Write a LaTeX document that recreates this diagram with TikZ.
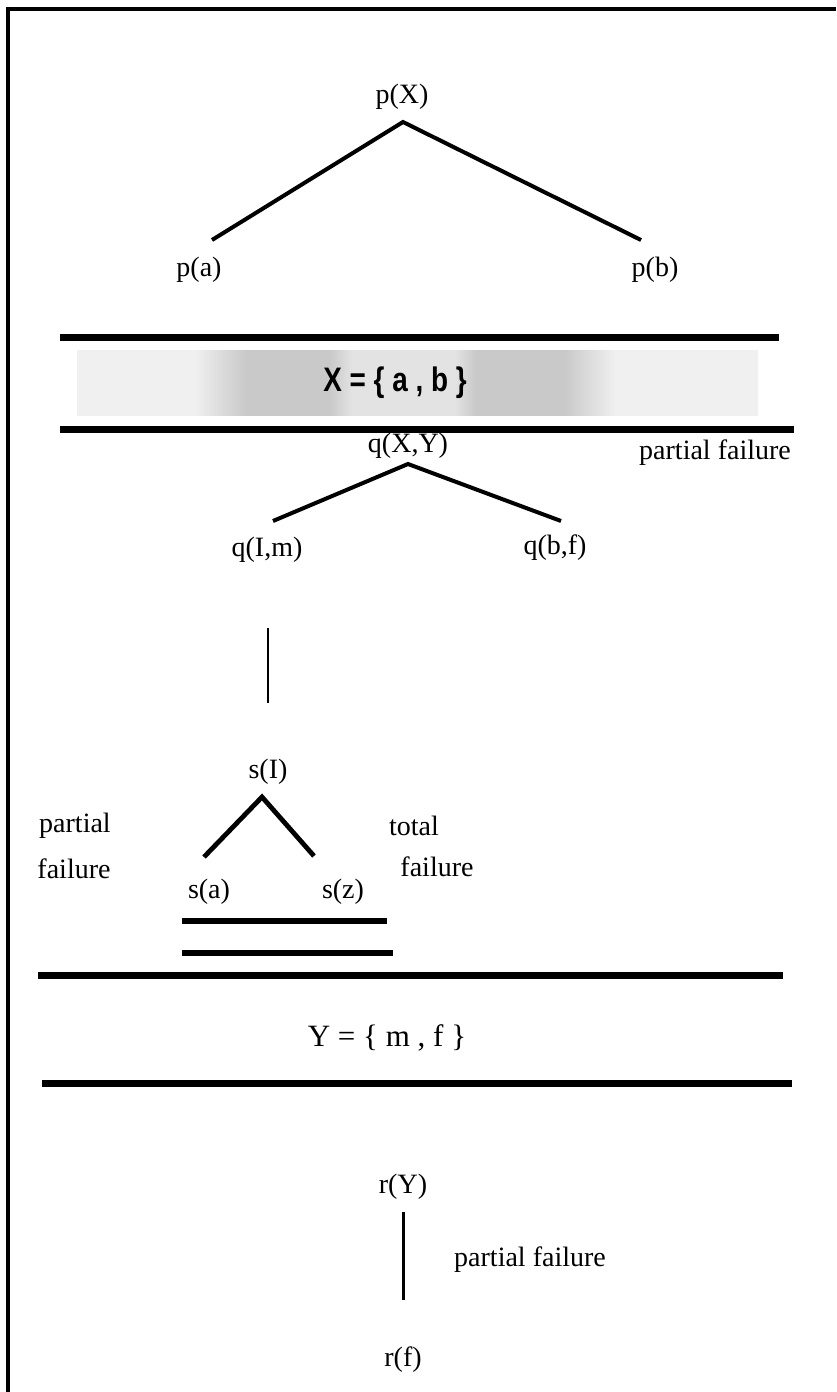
\documentclass[tikz,border=0pt]{standalone}
\usepackage{graphicx}
\usepackage{fontspec}
\setmainfont{Liberation Serif}
\newfontfamily\bandsans{Liberation Sans}
\pgfdeclarehorizontalshading{bandshade}{100bp}{%
  color(0bp)=(gray!12); color(25bp)=(gray!12); color(33.66bp)=(gray!12);
  color(37.33bp)=(gray!42); color(43.58bp)=(gray!42); color(45.19bp)=(gray!22);
  color(52.75bp)=(gray!22); color(54.22bp)=(gray!42); color(60.83bp)=(gray!42);
  color(64.5bp)=(gray!12); color(75bp)=(gray!12); color(100bp)=(gray!12)}
\begin{document}
\begin{tikzpicture}[x=0.5pt,y=-0.5pt,
  lbl/.style={inner sep=0pt, font=\fontsize{14}{16}\selectfont},
  edge/.style={line width=2pt},
  sedge/.style={line width=2.4pt},
  bar/.style={line width=3.5pt},
  shortbar/.style={line width=2.6pt},
  vline/.style={line width=1.2pt}]
\useasboundingbox (0,0) rectangle (836,1392);
% frame
\draw[line width=1.8pt] (8,1392) -- (8,9) -- (836,9);

% p tree
\node[lbl] (pX) at (402,97) {p(X)};
\node[lbl] (pa) at (199,270) {p(a)};
\node[lbl] (pb) at (655,270) {p(b)};
\coordinate (pXt) at (403,122);
\coordinate (pat) at (212,240);
\coordinate (pbt) at (641,240);
\draw[edge] (pat) -- (pXt) -- (pbt);

% X band
\shade[shading=bandshade] (77,350) rectangle (758,415);
\node[inner sep=0pt] (Xset) at (395,383) {\scalebox{0.82}[1]{\bandsans\bfseries\fontsize{17}{19}\selectfont X = \{ a , b \}}};
\coordinate (b1l) at (60,337);
\coordinate (b1r) at (779,337);
\coordinate (b2l) at (60,429);
\coordinate (b2r) at (794,429);
\draw[bar] (b1l) -- (b1r);
\draw[bar] (b2l) -- (b2r);

% q tree
\node[lbl] (qXY) at (408,446) {q(X,Y)};
\node[lbl] (pf1) at (715,453) {partial failure};
\node[lbl] (qIm) at (267,550) {q(I,m)};
\node[lbl] (qbf) at (555,548) {q(b,f)};
\coordinate (qt) at (408,464);
\coordinate (qlt) at (273,521);
\coordinate (qrt) at (561,521);
\draw[edge] (qlt) -- (qt) -- (qrt);
\coordinate (qImb) at (268,628);
\coordinate (sIt0) at (268,703);
\draw[vline] (qImb) -- (sIt0);

% s tree
\node[lbl] (sI) at (268,772) {s(I)};
\node[lbl] (part) at (75,826) {partial};
\node[lbl] (fail1) at (74,869) {failure};
\node[lbl] (sa) at (209,892) {s(a)};
\node[lbl] (sz) at (343,892) {s(z)};
\node[lbl] (total) at (414,826) {total};
\node[lbl] (fail2) at (437,867) {failure};
\coordinate (st) at (262,797);
\coordinate (sat) at (204,857);
\coordinate (szt) at (314,856);
\draw[sedge] (sat) -- (st) -- (szt);
\coordinate (u1l) at (182,921);
\coordinate (u1r) at (387,921);
\coordinate (u2l) at (182,953);
\coordinate (u2r) at (393,953);
\draw[shortbar] (u1l) -- (u1r);
\draw[shortbar] (u2l) -- (u2r);

% Y band
\coordinate (b3l) at (38,975);
\coordinate (b3r) at (783,975);
\coordinate (b4l) at (42,1083);
\coordinate (b4r) at (792,1083);
\draw[bar] (b3l) -- (b3r);
\draw[bar] (b4l) -- (b4r);
\node[inner sep=0pt, font=\fontsize{15.5}{18}\selectfont] (Yset) at (387,1038) {Y = \{ m , f \}};

% r tree
\node[lbl] (rY) at (403,1187) {r(Y)};
\node[lbl] (pf3) at (530,1260) {partial failure};
\node[lbl] (rf) at (403,1360) {r(f)};
\coordinate (rYb) at (403,1212);
\coordinate (rft) at (403,1300);
\draw[line width=1.5pt] (rYb) -- (rft);
\end{tikzpicture}
\end{document}
